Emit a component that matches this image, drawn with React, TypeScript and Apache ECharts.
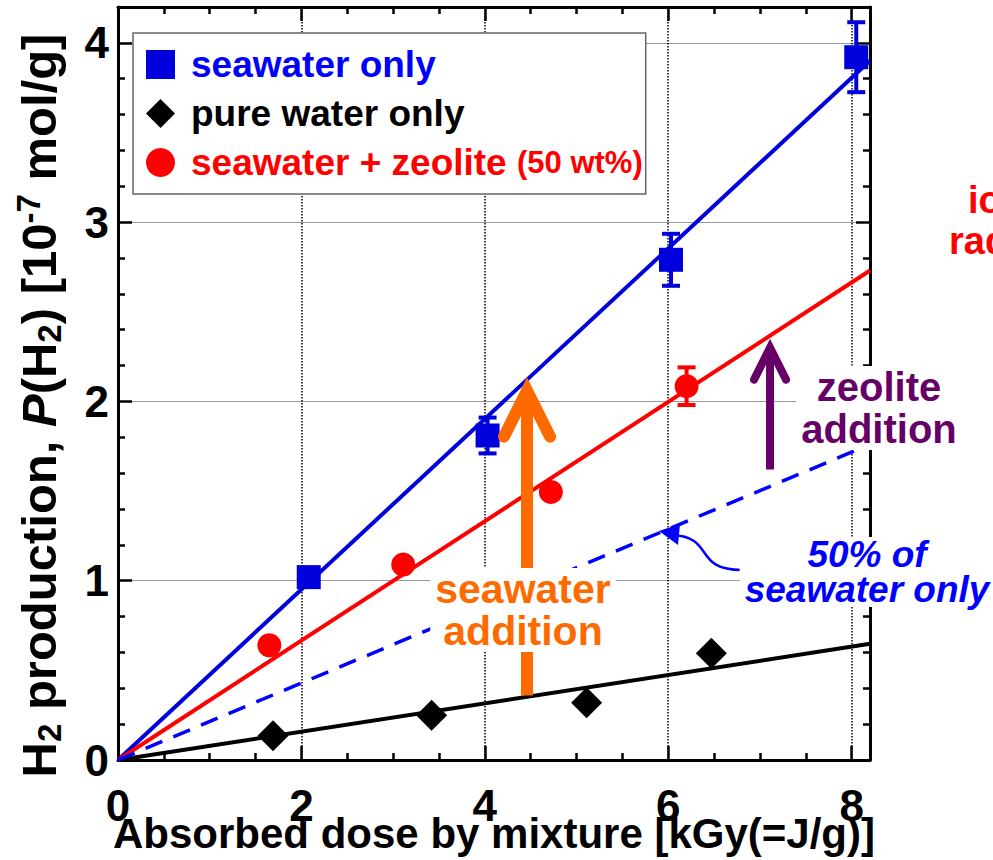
import React, { useEffect, useRef } from "react";
import * as echarts from "echarts";

// ---------------- data ----------------
const seawaterDose = [2.08, 4.03, 6.03, 8.05];
const seawaterH2 = [1.02, 1.81, 2.79, 3.92];
const seawaterErr = [0, 0.1, 0.145, 0.195];

const pureDose = [1.69, 3.42, 5.11, 6.47];
const pureH2 = [0.135, 0.25, 0.32, 0.595];

const zeoliteDose = [1.65, 3.11, 4.72, 6.2];
const zeoliteH2 = [0.64, 1.09, 1.495, 2.085];
const zeoliteErr = [0, 0, 0, 0.105];

// fitted straight lines through the origin (end points)
const fitDose = [0, 8.2];
const seawaterFit = [0, 3.9];
const zeoliteFit = [0, 2.73];
const pureFit = [0, 0.648];
const halfSeawaterFit = [0, 1.76];

// annotation arrows (data units)
const seawaterArrow = { x: 4.46, from: 0.36, to: 2.06 };
const zeoliteArrow = { x: 7.11, from: 1.62, to: 2.3 };

const FONT = '"Liberation Sans", Arial, Helvetica, sans-serif';
const NARROW = '"Liberation Sans Narrow", "Arial Narrow", "Liberation Sans", Arial, sans-serif';

export default function App() {
  const ref = useRef<HTMLDivElement>(null);

  useEffect(() => {
    if (!ref.current) return;
    const chart = echarts.init(ref.current, null, { renderer: "svg" });

    const BLUE = "#0000dd";
    const RED = "#ff0000";
    const pairs = (xs: number[], ys: number[]) => xs.map((x, i) => [x, ys[i]]);
    const triples = (xs: number[], ys: number[], es: number[]) =>
      xs.map((x, i) => [x, ys[i], es[i]]);

    const errBar = (color: string) => (params: any, api: any) => {
      const x = api.value(0);
      const y = api.value(1);
      const e = api.value(2);
      if (!e) return { type: "group", children: [] };
      const t = api.coord([x, y + e]);
      const b = api.coord([x, y - e]);
      const w = 9;
      const st = { stroke: color, lineWidth: 4 };
      return {
        type: "group",
        children: [
          { type: "line", shape: { x1: t[0], y1: t[1], x2: b[0], y2: b[1] }, style: st },
          { type: "line", shape: { x1: t[0] - w, y1: t[1], x2: t[0] + w, y2: t[1] }, style: st },
          { type: "line", shape: { x1: b[0] - w, y1: b[1], x2: b[0] + w, y2: b[1] }, style: st },
        ],
      };
    };

    const axisLine = { show: true, onZero: false, lineStyle: { color: "#000", width: 3 } };
    const axisTick = { show: true, inside: true, length: 14, lineStyle: { color: "#000", width: 2.5 } };

    const option: any = {
      animation: false,
      backgroundColor: "#fff",
      grid: { left: 118, top: 7, width: 752, height: 753, containLabel: false, outerBoundsMode: "none" },
      legend: {
        left: 133,
        top: 33,
        orient: "vertical",
        backgroundColor: "#fff",
        borderColor: "#666",
        borderWidth: 1.5,
        borderRadius: 0,
        padding: [13, 3, 13, 13],
        itemWidth: 29,
        itemHeight: 29,
        itemGap: 12,
        selectedMode: false,
        z: 10,
        data: [
          { name: "seawater only", icon: "rect", textStyle: { color: "#0000ff" } },
          { name: "pure water only", icon: "diamond", textStyle: { color: "#000" } },
          { name: "seawater + zeolite", icon: "circle", textStyle: { color: RED } },
        ],
        formatter: (name: string) =>
          name === "seawater + zeolite" ? "{a|seawater + zeolite} {b|(50 wt%)}" : name,
        textStyle: {
          fontSize: 37,
          fontWeight: "bold",
          fontFamily: FONT,
          lineHeight: 30,
          padding: [0, 0, 0, 11],
          rich: {
            a: { fontSize: 37, fontWeight: "bold", fontFamily: FONT, color: RED, lineHeight: 30 },
            b: { fontSize: 31, fontWeight: "bold", fontFamily: FONT, color: RED, lineHeight: 30 },
          },
        },
      },
      xAxis: [
        {
          type: "value",
          min: 0,
          max: 8.2,
          interval: 2,
          position: "bottom",
          axisLine,
          axisTick,
          minorTick: { show: true, splitNumber: 4, length: 7, lineStyle: { color: "#000", width: 2.5 } },
          splitLine: { show: true, lineStyle: { color: "#000", type: "dotted", width: 1.5 } },
          axisLabel: {
            fontSize: 44,
            fontWeight: "bold",
            fontFamily: NARROW,
            color: "#000",
            lineHeight: 34,
            margin: 28,
            showMaxLabel: false,
          },
          name: "Absorbed dose by mixture [kGy(=J/g)]",
          nameLocation: "middle",
          nameGap: 52,
          nameMoveOverlap: false,
          nameTextStyle: { fontSize: 42, fontWeight: "bold", fontFamily: FONT, color: "#000", lineHeight: 42 },
        },
        {
          type: "value",
          min: 0,
          max: 8.2,
          interval: 2,
          position: "top",
          axisLine,
          axisTick,
          minorTick: { show: true, splitNumber: 4, length: 7, lineStyle: { color: "#000", width: 2.5 } },
          splitLine: { show: false },
          axisLabel: { show: false },
        },
      ],
      yAxis: [
        {
          type: "value",
          min: 0,
          max: 4.2,
          interval: 1,
          position: "left",
          axisLine,
          axisTick,
          minorTick: { show: true, splitNumber: 5, length: 7, lineStyle: { color: "#000", width: 2.5 } },
          splitLine: { show: true, lineStyle: { color: "#999", width: 1.2 } },
          axisLabel: {
            fontSize: 44,
            fontWeight: "bold",
            fontFamily: NARROW,
            color: "#000",
            margin: 9,
            showMaxLabel: false,
          },
          name: "{m|H}{s|2}{m| production, }{i|P}{m|(H}{s|2}{m|) [10}{p|-7}{m| mol/g]}",
          nameLocation: "middle",
          nameRotate: 90,
          nameGap: 52,
          nameMoveOverlap: false,
          nameTextStyle: {
            color: "#000",
            padding: [0, 44, 0, 0],
            rich: {
              m: { fontSize: 49, fontWeight: "bold", fontFamily: FONT, color: "#000", lineHeight: 54 },
              i: { fontSize: 49, fontWeight: "bold", fontStyle: "italic", fontFamily: FONT, color: "#000", lineHeight: 54 },
              s: { fontSize: 33, fontWeight: "bold", fontFamily: FONT, color: "#000", lineHeight: 18, verticalAlign: "bottom" },
              p: { fontSize: 33, fontWeight: "bold", fontFamily: FONT, color: "#000", lineHeight: 18, verticalAlign: "top" },
            },
          },
        },
        {
          type: "value",
          min: 0,
          max: 4.2,
          interval: 1,
          position: "right",
          axisLine,
          axisTick,
          minorTick: { show: true, splitNumber: 5, length: 7, lineStyle: { color: "#000", width: 2.5 } },
          splitLine: { show: false },
          axisLabel: { show: false },
        },
      ],
      series: [
        {
          name: "seawater fit",
          type: "line",
          data: pairs(fitDose, seawaterFit),
          symbol: "none",
          silent: true,
          z: 2,
          lineStyle: { color: BLUE, width: 4 },
        },
        {
          name: "zeolite fit",
          type: "line",
          data: pairs(fitDose, zeoliteFit),
          symbol: "none",
          silent: true,
          z: 2,
          lineStyle: { color: RED, width: 4 },
        },
        {
          name: "pure water fit",
          type: "line",
          data: pairs(fitDose, pureFit),
          symbol: "none",
          silent: true,
          z: 2,
          lineStyle: { color: "#000", width: 4 },
        },
        {
          name: "50% of seawater only",
          type: "line",
          data: pairs(fitDose, halfSeawaterFit),
          symbol: "none",
          silent: true,
          z: 2,
          lineStyle: { color: "#0000ff", width: 3.5, type: [18, 12] },
        },
        {
          name: "seawater error",
          type: "custom",
          renderItem: errBar(BLUE),
          data: triples(seawaterDose, seawaterH2, seawaterErr),
          z: 3,
          silent: true,
        },
        {
          name: "zeolite error",
          type: "custom",
          renderItem: errBar(RED),
          data: triples(zeoliteDose, zeoliteH2, zeoliteErr),
          z: 3,
          silent: true,
        },
        {
          name: "seawater only",
          type: "scatter",
          symbol: "rect",
          symbolSize: 24,
          itemStyle: { color: BLUE, opacity: 1 },
          data: pairs(seawaterDose, seawaterH2),
          z: 4,
        },
        {
          name: "pure water only",
          type: "scatter",
          symbol: "diamond",
          symbolSize: 31,
          itemStyle: { color: "#000", opacity: 1 },
          data: pairs(pureDose, pureH2),
          z: 4,
        },
        {
          name: "seawater + zeolite",
          type: "scatter",
          symbol: "circle",
          symbolSize: 24,
          itemStyle: { color: RED, opacity: 1 },
          data: pairs(zeoliteDose, zeoliteH2),
          z: 4,
        },
      ],
    };

    chart.setOption(option);

    const px = (x: number, y: number) =>
      chart.convertToPixel({ xAxisIndex: 0, yAxisIndex: 0 }, [x, y]) as number[];

    const arrow = (a: { x: number; from: number; to: number }, color: string, w: number, hw: number, hh: number) => {
      const b = px(a.x, a.from);
      const t = px(a.x, a.to);
      return [
        {
          type: "line",
          z: 100,
          shape: { x1: b[0], y1: b[1], x2: t[0], y2: t[1] + w * 0.4 },
          style: { stroke: color, lineWidth: w, lineCap: "butt" },
        },
        {
          type: "polyline",
          z: 100,
          shape: { points: [[t[0] - hw, t[1] + hh], [t[0], t[1]], [t[0] + hw, t[1] + hh]] },
          style: { stroke: color, lineWidth: w, lineCap: "round", lineJoin: "miter", fill: null },
        },
      ];
    };

    const textEl = (text: string, x: number, y: number, color: string, size: number, lh: number, extra: any = {}) => ({
      type: "text",
      z: 120,
      x,
      y,
      style: {
        text,
        fill: color,
        fontSize: size,
        fontWeight: "bold",
        fontFamily: FONT,
        align: "center",
        verticalAlign: "middle",
        lineHeight: lh,
        backgroundColor: "#fff",
        padding: [0, 5],
        ...extra,
      },
    });

    chart.setOption({
      graphic: [
        ...arrow(seawaterArrow, "#ff6a00", 12, 23, 46),
        ...arrow(zeoliteArrow, "#660066", 8, 16, 32),
        {
          type: "bezierCurve",
          z: 100,
          shape: { x1: 742, y1: 570, cpx1: 692, cpy1: 570, cpx2: 716, cpy2: 537, x2: 672, y2: 535 },
          style: { stroke: "#0000ff", lineWidth: 2.5, fill: null },
        },
        {
          type: "polygon",
          z: 100,
          shape: { points: [[659, 531], [680, 524], [678, 545]] },
          style: { fill: "#0000ff" },
        },
        textEl("seawater\naddition", 523, 610, "#ff6a00", 41, 42),
        textEl("zeolite\naddition", 879, 408, "#660066", 40, 42),
        textEl("50% of\nseawater only", 867, 572, "#0000ff", 37, 35, { fontStyle: "italic" }),
        {
          type: "text",
          z: 120,
          x: 968,
          y: 200,
          style: { text: "ionizing", fill: RED, fontSize: 38, fontWeight: "bold", fontFamily: FONT, align: "left", verticalAlign: "middle" },
        },
        {
          type: "text",
          z: 120,
          x: 949,
          y: 241,
          style: { text: "radiation", fill: RED, fontSize: 38, fontWeight: "bold", fontFamily: FONT, align: "left", verticalAlign: "middle" },
        },
      ],
    });

    return () => chart.dispose();
  }, []);

  return (
    <div
      ref={ref}
      style={{ position: "absolute", left: 0, top: 0, width: 993, height: 860, background: "#fff" }}
    />
  );
}
